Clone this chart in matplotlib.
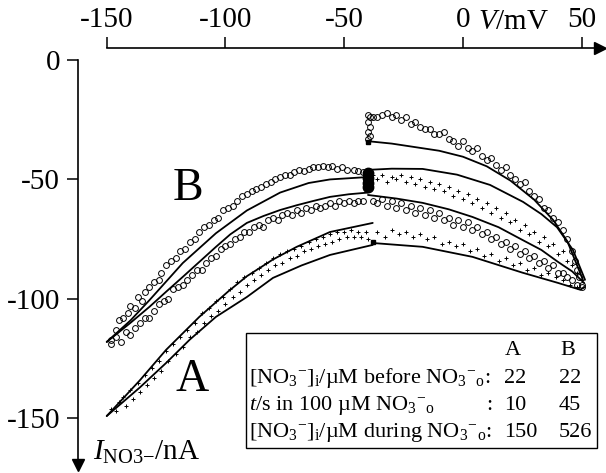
import matplotlib
matplotlib.use("Agg")
import matplotlib.pyplot as plt
from matplotlib.patches import Rectangle

plt.rcParams['font.family'] = ['Liberation Serif', 'DejaVu Serif']
plt.rcParams['mathtext.fontset'] = 'custom'
plt.rcParams['mathtext.rm'] = 'Liberation Serif'
plt.rcParams['mathtext.it'] = 'Liberation Serif:italic'
plt.rcParams['mathtext.bf'] = 'Liberation Serif:bold'

# ---- fitted curves (V in mV, I in nA) ----
# B, ramp from -40 to -150 and back (two solid lines)
b_up_v = [-150, -140, -132, -118, -104, -91, -77, -65, -56, -40]
b_up_i = [-118, -109, -100.5, -85, -72.5, -63, -55.5, -51.5, -50, -49]
b_lo_v = [-150, -140, -132, -125, -118, -111, -104, -98, -91, -84, -77, -70, -63, -56, -48, -40]
b_lo_i = [-118, -110, -103.3, -97, -90.8, -84.5, -78.2, -73, -68.2, -65.3, -62.8, -60.8, -59, -57.3, -56.2, -55.5]
# B, depolarising side
b_top_v = [-40, -30, -20, -10, 0, 10, 20, 30, 38, 44, 50.5]
b_top_i = [-34, -35, -36.5, -38, -40.5, -44.5, -50.5, -58.5, -67, -76, -92]
b_mid_v = [-40, -30, -17, -2.5, 11.4, 25.3, 33, 39.6, 46.3, 51.4]
b_mid_i = [-46, -45.5, -45.6, -48, -52.3, -59.4, -64.5, -70, -79.5, -92]
b_mid2_v = [-40, -28, -17, -6, 4, 15, 25, 33, 40, 46, 51]
b_mid2_i = [-56.5, -58, -59.8, -62.5, -65.7, -70, -75.3, -79.5, -84.5, -88.5, -93.3]
# A
a_up_v = [-150, -136, -125, -111, -99, -91, -80, -70, -56, -38]
a_up_i = [-149, -134, -121.3, -107.5, -97, -90.5, -83.5, -78.2, -72, -68.2]
a_lo_v = [-150, -136, -125, -115, -104, -91, -80, -68, -56, -38]
a_lo_i = [-149, -137, -126.8, -117, -107.5, -99.2, -91.2, -86, -81.6, -77.4]
a_right_v = [-38, -17, 4, 25, 40, 49.5, 51]
a_right_i = [-76.6, -78.2, -82.4, -89, -93.3, -96.2, -95]

# ---- measured points ----
# open circles (B)
circ_up_v = [-148, -146, -145, -143, -141, -140, -138, -137, -135, -134, -132, -130, -128, -127,
             -125, -123, -121, -119, -117, -115, -113, -111, -109, -107, -105, -103, -101, -99,
             -97, -95, -93, -91, -89, -87, -85, -83, -81, -79, -77, -75, -73, -71, -69, -67,
             -65, -63, -61, -59, -57, -55, -53, -51, -49, -46, -44, -42]
circ_up_i = [-117, -113, -109, -108, -106, -103, -104, -99, -101, -97, -95, -93, -92, -89,
             -86, -84, -83, -80, -79, -76, -75, -72, -70, -69, -67, -66, -63, -62,
             -61, -59, -57, -56, -55, -54, -53, -52, -51, -50, -49, -48, -48, -47, -46, -46.5,
             -45.5, -45, -45, -44.5, -45, -44.5, -45.5, -45, -46, -46, -46.5, -47]
circ_lo_v = [-148, -146, -144, -142, -140, -138, -136, -134, -132, -130, -128, -126, -124, -122,
             -120, -118, -116, -114, -112, -110, -108, -106, -104, -102, -100, -98, -96, -94,
             -92, -90, -88, -86, -84, -82, -80, -78, -76, -74, -72, -70, -68, -66, -64, -62,
             -60, -58, -56, -54, -52, -50, -48, -46, -44, -42]
circ_lo_i = [-119, -116, -118, -114, -115, -112, -110, -108, -108, -105, -102, -101, -100, -96,
             -95, -94, -92, -90, -88, -88, -85, -83, -82, -79, -78, -77, -75, -74,
             -72, -72, -70, -69, -70, -67, -66, -67, -65, -64, -65, -63, -64, -62, -63, -61,
             -62, -61, -60, -61, -59, -60, -59, -60, -59, -59]
circ_top_v = [-40, -39, -40, -39, -40, -39, -40, -38, -36, -34, -32, -30, -28, -26, -24, -22,
              -20, -18, -16, -14, -12, -10, -8, -6, -4, -2, 0, 2, 4, 6, 8, 10, 12, 14, 16, 18,
              20, 22, 24, 26, 28, 30, 32, 34, 36, 38, 40, 42, 44, 46, 47, 48, 49, 50]
circ_top_i = [-23, -24, -26, -28, -30, -32, -33, -24, -24, -23, -22, -24, -23, -25, -24, -27,
              -26, -28, -29, -29, -31, -31, -30, -33, -34, -36, -34, -37, -38, -37, -40, -42,
              -41, -44, -46, -45, -48, -50, -52, -51, -55, -57, -58, -62, -63, -66, -68, -71,
              -75, -80, -84, -88, -91, -94]
circ_mid_v = [-38, -36, -34, -32, -30, -28, -26, -24, -22, -20, -18, -16, -14, -12, -10, -8,
              -6, -4, -2, 0, 2, 4, 6, 8, 10, 12, 14, 16, 18, 20, 22, 24, 26, 28, 30, 32, 34,
              36, 38, 40, 42, 44, 46, 48, 50]
circ_mid_i = [-59, -60, -58, -61, -59, -62, -60, -63, -61, -64, -62, -65, -63, -66, -64, -67,
              -66, -69, -67, -70, -68, -71, -70, -73, -72, -75, -74, -77, -76, -79, -78, -81,
              -80, -83, -82, -85, -84, -87, -86, -89, -89, -91, -92, -94, -95]
# small crosses (A)
plus_left_v = [-148, -146, -145, -143, -142, -140, -139, -137, -136, -134, -133, -131, -130, -128,
               -127, -125, -124, -122, -121, -119, -118, -116, -115, -113, -112, -110, -109, -107,
               -106, -104, -103, -101, -100, -98, -97, -95, -94, -92, -91, -89, -88, -86, -85,
               -83, -82, -80, -79, -77, -76, -74, -73, -71, -70, -68, -67, -65, -64, -62, -61,
               -59, -58, -56, -55, -53, -52, -50, -49, -47, -46, -44, -43, -41, -40]
plus_left_i = [-146, -147, -143, -141, -145, -138, -142, -135, -139, -132, -136, -129, -133, -126,
               -130, -122, -126, -119, -123, -116, -120, -113, -116, -110, -114, -106, -110, -104,
               -107, -101, -105, -99, -102, -96, -99, -93, -97, -91, -94, -89, -92, -87, -90,
               -85, -88, -83, -86, -81, -85, -80, -83, -79, -82, -78, -80, -76, -79, -75, -78,
               -74, -77, -73, -76, -72, -75, -72, -74, -71, -74, -72, -74, -72, -75]
plus_mid_v = [-38, -36, -34, -32, -30, -28, -26, -24, -22, -20, -18, -16, -14, -12, -10, -8,
              -6, -4, -2, 0, 2, 4, 6, 8, 10, 12, 14, 16, 18, 20, 22, 24, 26, 28, 30, 32, 34,
              36, 38, 40, 42, 44, 46, 48, 50]
plus_mid_i = [-48, -50, -48, -51, -49, -50, -48, -51, -49, -52, -50, -53, -51, -54, -52, -55,
              -53, -57, -55, -58, -56, -60, -58, -62, -60, -64, -62, -66, -64, -68, -67, -71,
              -69, -73, -72, -76, -74, -78, -77, -81, -80, -84, -86, -89, -92]
plus_low_v = [-36, -33, -30, -27, -24, -21, -18, -15, -12, -9, -6, -3, 0, 3, 6, 9, 12, 15,
              18, 21, 24, 27, 30, 33, 36, 39, 42, 45, 48]
plus_low_i = [-72, -74, -71, -73, -72, -74, -73, -75, -74, -77, -76, -78, -77, -80, -79, -82,
              -81, -84, -83, -86, -85, -88, -87, -90, -89, -91, -92, -94, -95]

blob_v = [-40, -40, -40, -40]
blob_i = [-47.5, -49.5, -51.5, -53]
square_v = [-40, -38]
square_i = [-34.5, -76]

# table
table_rows = [r"[NO$_3{}^{-}$]$_{\mathrm{i}}$/µM before NO$_3{}^{-}{}_{\mathrm{o}}$:",
              r"$t$/s in 100 µM NO$_3{}^{-}{}_{\mathrm{o}}$",
              r"[NO$_3{}^{-}$]$_{\mathrm{i}}$/µM during NO$_3{}^{-}{}_{\mathrm{o}}$:"]
col_a = ['22', '10', '150']
col_b = ['22', '45', '526']

W, H = 606, 473
fig = plt.figure(figsize=(W / 100, H / 100), dpi=100)


def fx(px):
    return px / W


def fy(py):
    return 1 - py / H


ax = fig.add_axes([fx(78), fy(465), fx(600) - fx(78), fy(48) - fy(465)])
ax.set_xlim(-162.1, 57.7)
ax.set_ylim(-169.5, 5.0)

lw = 1.3
for v, i in [(b_up_v, b_up_i), (b_lo_v, b_lo_i), (b_top_v, b_top_i), (b_mid_v, b_mid_i),
             (b_mid2_v, b_mid2_i), (a_up_v, a_up_i), (a_lo_v, a_lo_i), (a_right_v, a_right_i)]:
    ax.plot(v, i, color='black', lw=lw, solid_capstyle='round')

for v, i in [(circ_up_v, circ_up_i), (circ_lo_v, circ_lo_i), (circ_top_v, circ_top_i),
             (circ_mid_v, circ_mid_i)]:
    ax.plot(v, i, ls='none', marker='o', ms=4.2, mfc='none', mec='black', mew=0.7)

for v, i in [(plus_left_v, plus_left_i), (plus_mid_v, plus_mid_i), (plus_low_v, plus_low_i)]:
    ax.plot(v, i, ls='none', marker='+', ms=2.8, color='black', mew=0.7)

ax.plot(blob_v, blob_i, ls='none', marker='o', ms=7.5, color='black')
ax.plot(square_v, square_i, ls='none', marker='s', ms=3.5, color='black')

# axes styling
for s in ['right', 'bottom']:
    ax.spines[s].set_visible(False)
ax.spines['top'].set_bounds(-150, 57.7)
ax.spines['left'].set_bounds(-169.5, 0)
for s in ['top', 'left']:
    ax.spines[s].set_linewidth(1.2)
ax.xaxis.tick_top()
ax.set_xticks([-150, -100, -50, 0, 50])
ax.set_xticklabels(['-150', '-100', '-50', '0', '50'])
ax.set_yticks([0, -50, -100, -150])
ax.set_yticklabels(['0', '-50', '-100', '-150'])
ax.tick_params(axis='both', direction='out', length=8, width=1.1, labelsize=21)
ax.tick_params(axis='x', pad=3)
ax.tick_params(axis='y', pad=5)
ax.plot([1.0], [1.0], marker='>', ms=9, color='black', transform=ax.transAxes, clip_on=False)
ax.plot([0.0], [0.0], marker='v', ms=9, color='black', transform=ax.transAxes, clip_on=False)

fig.text(fx(478), fy(29), r"$V$/mV", ha='left', va='baseline', fontsize=21)
fig.text(fx(93), fy(460), r"$I_{\mathrm{NO3}\mathrm{-}}$/nA", fontsize=21, ha='left', va='baseline')

ax.text(-116, -54, 'B', fontsize=33, ha='center', va='center')
ax.text(-114, -134, 'A', fontsize=33, ha='center', va='center')

# table box
fig.patches.append(Rectangle((fx(246), fy(448)), fx(597) - fx(246), fy(333) - fy(448),
                             transform=fig.transFigure, fill=True, facecolor='white',
                             edgecolor='black', lw=1.0))
fs = 16
fig.text(fx(505), fy(355), 'A', fontsize=fs, va='baseline')
fig.text(fx(560), fy(355), 'B', fontsize=fs, va='baseline')
row_y = [383, 410, 437]
for k, label in enumerate(table_rows):
    fig.text(fx(249), fy(row_y[k]), label, fontsize=fs, va='baseline')
    fig.text(fx(504), fy(row_y[k]), col_a[k], fontsize=fs, va='baseline')
    fig.text(fx(559), fy(row_y[k]), col_b[k], fontsize=fs, va='baseline')
fig.text(fx(486), fy(row_y[1]), ':', fontsize=fs, va='baseline')

fig.savefig('out.png', dpi=100)
